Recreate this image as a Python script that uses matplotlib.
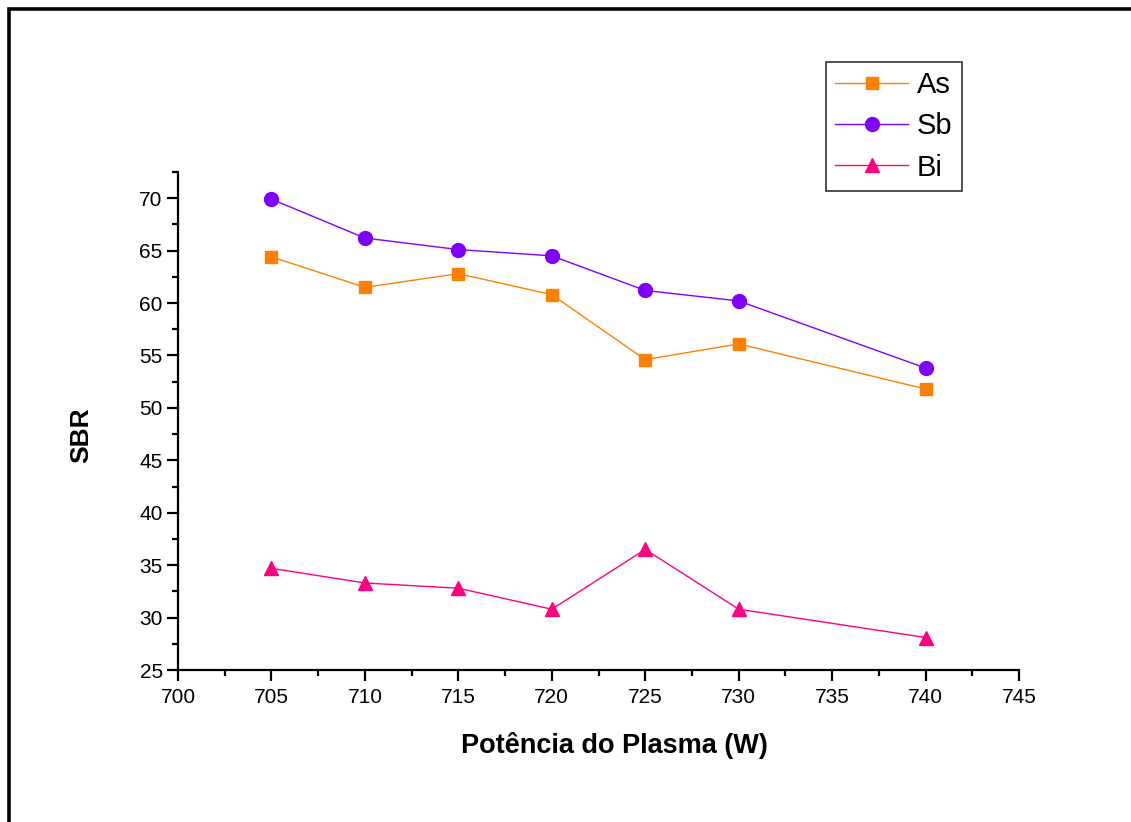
import matplotlib
matplotlib.use("Agg")
import matplotlib.pyplot as plt
from matplotlib.patches import Rectangle
from matplotlib.ticker import MultipleLocator

power = [705, 710, 715, 720, 725, 730, 740]
as_sbr = [64.4, 61.5, 62.8, 60.8, 54.6, 56.1, 51.8]
sb_sbr = [69.9, 66.2, 65.1, 64.5, 61.2, 60.2, 53.8]
bi_sbr = [34.7, 33.3, 32.8, 30.8, 36.5, 30.8, 28.1]

plt.rcParams['font.family'] = ['Liberation Sans', 'DejaVu Sans']

fig = plt.figure(figsize=(11.31, 8.22), dpi=100)
ax = fig.add_axes([0.1574, 0.1849, 0.7436, 0.6059])

# outer frame (only top and left visible, rest cropped)
fig.patches.append(Rectangle((9 / 1131, -0.1), 1.2, 1 - 9 / 822 + 0.1,
                             transform=fig.transFigure, fill=False,
                             edgecolor='black', linewidth=2.6))

ax.plot(power, as_sbr, color='#FF8000', marker='s', markersize=9, linewidth=1, label='As')
ax.plot(power, sb_sbr, color='#8000FF', marker='o', markersize=10, linewidth=1, label='Sb')
ax.plot(power, bi_sbr, color='#FF0080', marker='^', markersize=10, linewidth=1, label='Bi')

ax.set_xlim(700, 745)
ax.set_ylim(25, 72.5)
ax.xaxis.set_major_locator(MultipleLocator(5))
ax.xaxis.set_minor_locator(MultipleLocator(2.5))
ax.yaxis.set_major_locator(MultipleLocator(5))
ax.yaxis.set_minor_locator(MultipleLocator(2.5))

for s in ['top', 'right']:
    ax.spines[s].set_visible(False)
for s in ['left', 'bottom']:
    ax.spines[s].set_linewidth(1.6)

ax.tick_params(which='major', direction='out', length=8, width=1.6, labelsize=15)
ax.tick_params(which='minor', direction='out', length=4, width=1.6)
ax.tick_params(axis='x', which='major', pad=5)
ax.tick_params(axis='y', which='major', pad=3)

ax.set_xlabel('Potência do Plasma (W)', fontsize=19.5, fontweight='bold', va='center')
ax.set_ylabel('SBR', fontsize=19, fontweight='bold', va='center')
ax.xaxis.set_label_coords(0.519, -0.151)
ax.yaxis.set_label_coords(-0.115, 0.472)

leg = ax.legend(loc='upper left', bbox_to_anchor=(826 / 1131, 1 - 62 / 822),
                bbox_transform=fig.transFigure, fontsize=21, frameon=True,
                fancybox=False, edgecolor='black', handlelength=2.5,
                handletextpad=0.3, labelspacing=0.45, borderpad=0.32,
                borderaxespad=0)
leg.get_frame().set_linewidth(1.2)

fig.savefig('out.png', dpi=100)
